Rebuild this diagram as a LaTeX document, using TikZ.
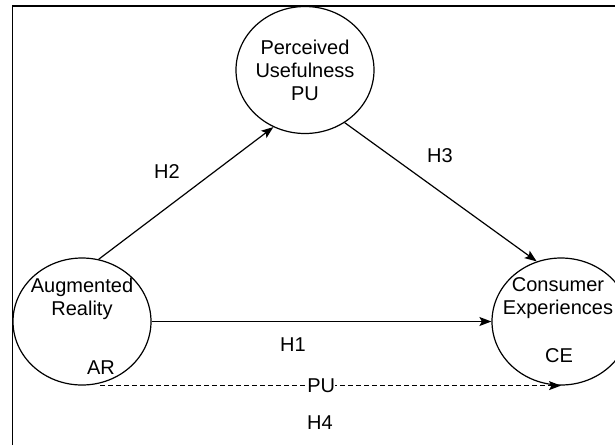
\documentclass[tikz,border=0pt]{standalone}
\usepackage{fontspec}
\setmainfont{Liberation Sans}
\usetikzlibrary{shapes.geometric,arrows.meta}
\begin{document}
\begin{tikzpicture}[x=1pt,y=-1pt,
  construct/.style={draw,ellipse,line width=1.2pt,minimum width=138pt,minimum height=127pt,inner sep=0pt},
  txt/.style={font=\fontsize{20}{23}\selectfont,align=center,inner sep=1pt,text=black},
  conn/.style={line width=1.2pt,-{Stealth[length=12pt,width=9pt,inset=2.5pt]}}]
\useasboundingbox (0,0) rectangle (615,445);
\draw[line width=1.9pt] (12.5,445) coordinate (fa) -- (12.5,6) coordinate (fb) -- (615,6) coordinate (fc);
\node[construct] (ar) at (82,321.5) {};
\node[construct] (pu) at (305,70) {};
\node[construct] (ce) at (561,321.5) {};
\node[txt] (arname) at (82,299) {Augmented\\Reality};
\node[txt,fill=white] (arcode) at (101,368) {AR};
\node[txt] (puname) at (305,70) {Perceived\\Usefulness\\PU};
\node[txt] (cename) at (558,298) {Consumer\\Experiences};
\node[txt] (cecode) at (559,356) {CE};
\draw[conn] (ar.75) -- (pu.241);
\draw[conn] (pu.307) -- (ce.112);
\draw[conn] (ar.east) -- (ce.west);
\draw[conn,dashed,dash pattern=on 5pt off 3pt] ([xshift=18pt]ar.south) -- (ce.south)
  node[txt,pos=0.48,fill=white,inner sep=0pt] (med) {PU};
\node[txt] (h1) at (293,345) {H1};
\node[txt] (h2) at (167,172) {H2};
\node[txt] (h3) at (440,156) {H3};
\node[txt] (h4) at (320,423) {H4};
\end{tikzpicture}
\end{document}
